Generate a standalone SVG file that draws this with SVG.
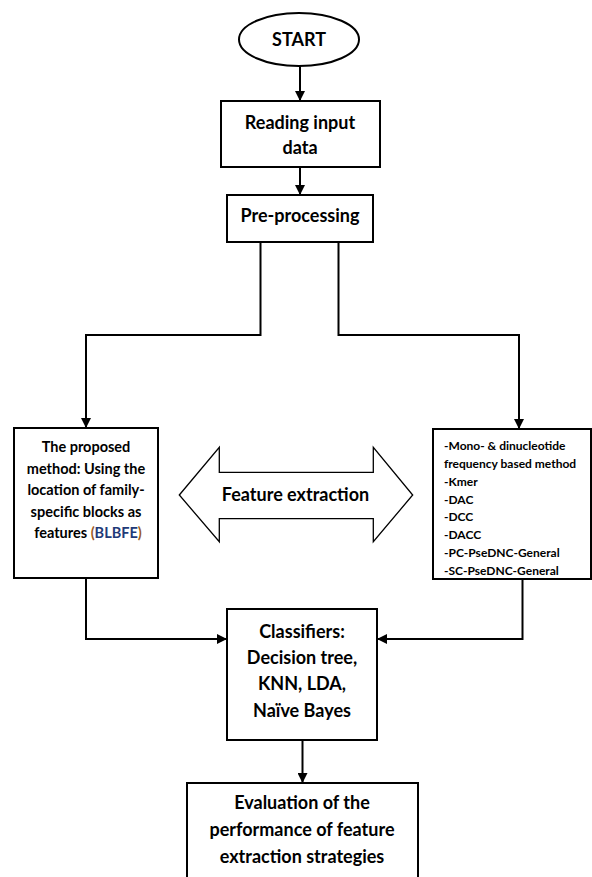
<svg xmlns="http://www.w3.org/2000/svg" width="592" height="877" viewBox="0 0 592 877">
<defs>
<style>
.box{fill:#fff;stroke:#000;stroke-width:2}
.ln{fill:none;stroke:#000;stroke-width:2}
.t{font-family:Lato,"Liberation Sans",sans-serif;font-weight:bold;fill:#000;text-anchor:middle}
.big{font-size:18px}
.mid{font-size:14.5px}
.sm{font-family:Lato,"Liberation Sans",sans-serif;font-weight:bold;font-size:12px;fill:#000}
</style>
<marker id="ah2" viewBox="0 0 10 10" refX="10" refY="5" markerWidth="10" markerHeight="10" orient="auto" markerUnits="userSpaceOnUse">
<path d="M0,0 L10,5 L0,10 z" fill="#000"/>
</marker>
</defs>
<rect width="592" height="877" fill="#fff"/>
<g id="connectors">
<path class="ln" d="M300,66 V101" marker-end="url(#ah2)"/>
<path class="ln" d="M300,167 V195" marker-end="url(#ah2)"/>
<path class="ln" d="M260.5,242 V335 H86 V428" marker-end="url(#ah2)"/>
<path class="ln" d="M338.5,242 V335 H519 V429" marker-end="url(#ah2)"/>
<path class="ln" d="M86,578 V639 H227" marker-end="url(#ah2)"/>
<path class="ln" d="M522.5,579 V639 H377" marker-end="url(#ah2)"/>
<path class="ln" d="M302.5,740 V783" marker-end="url(#ah2)"/>
</g>
<g id="start">
<ellipse class="box" cx="299" cy="39.5" rx="60" ry="26.5"/>
<text class="t big" x="299" y="46">START</text>
</g>
<g id="reading">
<rect class="box" x="221" y="101" width="159" height="66"/>
<text class="t big" x="300" y="129">Reading input</text>
<text class="t big" x="300" y="154">data</text>
</g>
<g id="preprocessing">
<rect class="box" x="227" y="195" width="146" height="47"/>
<text class="t big" x="300" y="222">Pre-processing</text>
</g>
<g id="proposed">
<rect class="box" x="14" y="428" width="144" height="150"/>
<text class="t mid" x="86" y="452">The proposed</text>
<text class="t mid" x="86" y="473.5">method: Using the</text>
<text class="t mid" x="86" y="495">location of family-</text>
<text class="t mid" x="86" y="516.5">specific blocks as</text>
<text class="t mid" x="88" y="538">features <tspan fill="#9C5B1E">(</tspan><tspan fill="#1F3A78">BLBFE</tspan><tspan fill="#9C5B1E">)</tspan></text>
</g>
<g id="feature-extraction">
<path d="M179.3,495 L219.3,447.3 V472.3 H373.3 V447.3 L412.7,495 L373.3,541.7 V518.7 H219.3 V541.7 Z" fill="#fff" stroke="#000" stroke-width="1.3"/>
<text class="t big" x="295.5" y="500.5">Feature extraction</text>
</g>
<g id="methods">
<rect class="box" x="433" y="429" width="158" height="150"/>
<text class="sm" x="444" y="449.5">-Mono- &amp; dinucleotide</text>
<text class="sm" x="444" y="467.5">frequency based method</text>
<text class="sm" x="444" y="485.5">-Kmer</text>
<text class="sm" x="444" y="503.5">-DAC</text>
<text class="sm" x="444" y="521">-DCC</text>
<text class="sm" x="444" y="539">-DACC</text>
<text class="sm" x="444" y="557">-PC-PseDNC-General</text>
<text class="sm" x="444" y="574.5">-SC-PseDNC-General</text>
</g>
<g id="classifiers">
<rect class="box" x="227" y="609" width="150" height="131"/>
<text class="t big" x="302" y="638">Classifiers:</text>
<text class="t big" x="302" y="664">Decision tree,</text>
<text class="t big" x="302" y="690">KNN, LDA,</text>
<text class="t big" x="302" y="717">Naïve Bayes</text>
</g>
<g id="evaluation">
<rect class="box" x="187" y="783" width="231" height="110"/>
<text class="t big" x="302" y="809">Evaluation of the</text>
<text class="t big" x="302" y="836">performance of feature</text>
<text class="t big" x="302" y="863">extraction strategies</text>
</g>
</svg>
